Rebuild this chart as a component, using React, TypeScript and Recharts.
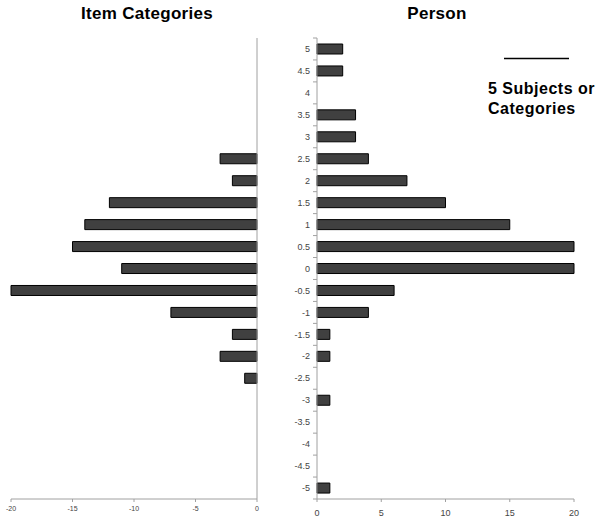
import React from 'react';
import { BarChart, Bar, XAxis, YAxis } from 'recharts';

const categories = ['5', '4.5', '4', '3.5', '3', '2.5', '2', '1.5', '1', '0.5', '0', '-0.5', '-1', '-1.5', '-2', '-2.5', '-3', '-3.5', '-4', '-4.5', '-5'];
const personCounts = [2, 2, 0, 3, 3, 4, 7, 10, 15, 20, 20, 6, 4, 1, 1, 0, 1, 0, 0, 0, 1];
const itemCounts = [0, 0, 0, 0, 0, -3, -2, -12, -14, -15, -11, -20, -7, -2, -3, -1, 0, 0, 0, 0, 0];
const leftTicks = [-20, -15, -10, -5, 0];
const rightTicks = [0, 5, 10, 15, 20];

const personData = categories.map((c, i) => ({ cat: c, value: personCounts[i] }));
const itemData = categories.map((c, i) => ({ cat: c, value: itemCounts[i] }));

const FONT = '"Liberation Sans", Arial, sans-serif';
const AXIS = '#a0a0a0';
const PLOT_H = 461;
const BAND = PLOT_H / categories.length;

const PersonTick = (props: any) => {
  const { x, y, payload, index } = props;
  const ax = 57;
  return (
    <g>
      <text x={x} y={y} dy="0.35em" textAnchor="end" fontSize={9} fill="#444" fontFamily={FONT}>
        {payload.value}
      </text>
      <line x1={ax - 4} x2={ax} y1={y - BAND / 2} y2={y - BAND / 2} stroke={AXIS} />
      {index === categories.length - 1 && (
        <line x1={ax - 4} x2={ax} y1={y + BAND / 2} y2={y + BAND / 2} stroke={AXIS} />
      )}
    </g>
  );
};

export default function App() {
  return (
    <div style={{ position: 'absolute', left: 0, top: 0, width: 601, height: 523, background: '#fff', fontFamily: FONT }}>
      <div style={{ position: 'absolute', left: 0, top: 0 }}>
        <BarChart
          width={300}
          height={523}
          layout="vertical"
          data={itemData}
          margin={{ top: 38, right: 42, bottom: 4, left: 11 }}
        >
          <XAxis
            type="number"
            domain={[-20, 0]}
            ticks={leftTicks}
            height={20}
            stroke={AXIS}
            tickSize={3}
            tickMargin={4}
            tick={{ fontSize: 7, fill: '#444', fontFamily: FONT }}
          />
          <YAxis
            type="category"
            dataKey="cat"
            orientation="right"
            width={1}
            tick={false}
            tickLine={false}
            stroke={AXIS}
          />
          <Bar dataKey="value" fill="#404040" stroke="#000" strokeWidth={1} barSize={10} isAnimationActive={false} />
        </BarChart>
      </div>
      <div style={{ position: 'absolute', left: 260, top: 0 }}>
        <BarChart
          width={341}
          height={523}
          layout="vertical"
          data={personData}
          margin={{ top: 38, right: 27, bottom: 4, left: 7 }}
        >
          <XAxis
            type="number"
            domain={[0, 20]}
            ticks={rightTicks}
            height={20}
            stroke={AXIS}
            tickSize={3}
            tickMargin={8}
            tick={{ fontSize: 9, fill: '#444', fontFamily: FONT }}
          />
          <YAxis
            type="category"
            dataKey="cat"
            width={50}
            tickSize={4}
            tickMargin={3}
            tickLine={false}
            interval={0}
            stroke={AXIS}
            tick={<PersonTick />}
          />
          <Bar dataKey="value" fill="#404040" stroke="#000" strokeWidth={1} barSize={10} isAnimationActive={false} />
        </BarChart>
      </div>
      <svg width={601} height={523} style={{ position: 'absolute', left: 0, top: 0, pointerEvents: 'none' }}>
        <text x={147} y={19} textAnchor="middle" fontSize={17} fontWeight="bold" letterSpacing={0.3} fontFamily={FONT} fill="#000">
          Item Categories
        </text>
        <text x={437} y={19} textAnchor="middle" fontSize={17} fontWeight="bold" letterSpacing={0.3} fontFamily={FONT} fill="#000">
          Person
        </text>
        <line x1={504} x2={569} y1={58.5} y2={58.5} stroke="#000" strokeWidth={1.5} />
        <text x={488} y={94} fontSize={16} fontWeight="bold" letterSpacing={0.5} fontFamily={FONT} fill="#000">
          5 Subjects or
        </text>
        <text x={488} y={114} fontSize={16} fontWeight="bold" letterSpacing={0.5} fontFamily={FONT} fill="#000">
          Categories
        </text>
      </svg>
    </div>
  );
}
